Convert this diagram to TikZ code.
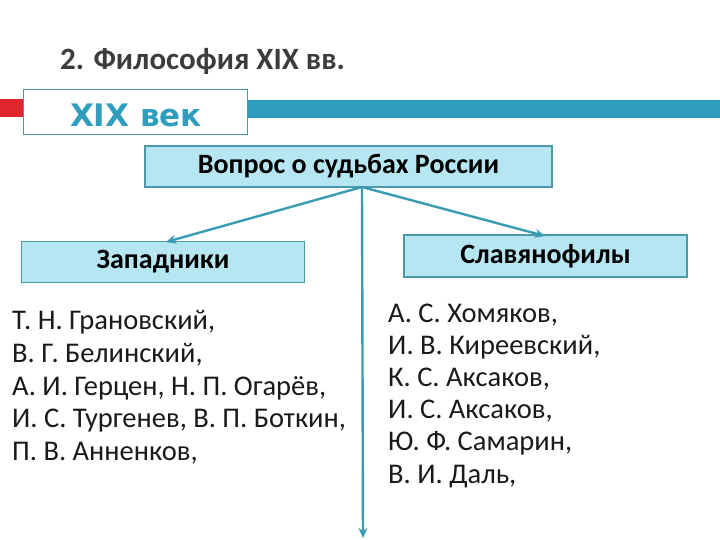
\documentclass[tikz,border=0pt]{standalone}
\usepackage{fontspec}
\setmainfont{Carlito}
\newfontfamily\heavyfont{DejaVu Sans}
\usetikzlibrary{arrows.meta}
\definecolor{teal1}{HTML}{3A9CB2}
\definecolor{barblue}{HTML}{2F9DBE}
\definecolor{boxfill}{HTML}{B5E6F1}
\definecolor{boxedge}{HTML}{4A98A8}
\definecolor{redbar}{HTML}{E0262C}
\definecolor{titlegray}{HTML}{3C3C3C}
\definecolor{txt}{HTML}{1A1A1A}
\tikzset{
  hbox/.style={draw=boxedge, line width=1.8pt, fill=boxfill, inner sep=0pt, font=\fontsize{28}{32}\selectfont\bfseries, text=black},
  plain/.style={anchor=base west, inner sep=0pt, font=\fontsize{28.5}{34}\selectfont, text=txt},
  conn/.style={draw=teal1, line width=2.4pt, -{Stealth[length=10pt,width=9pt]}}
}
\begin{document}
\begin{tikzpicture}[x=1pt,y=-1pt]
\useasboundingbox (0,0) rectangle (720,540);
\fill[white] (0,0) rectangle (720,540);
% bars
\fill[redbar] (0,99) rectangle (23,117);
\fill[barblue] (247,100) rectangle (720,118);
% title
\node[anchor=base west, inner sep=0pt, font=\fontsize{31}{36}\selectfont\bfseries, text=titlegray] (title) at (60,70) {2. Философия XIX вв.};
% XIX box
\node[draw=boxedge, line width=1pt, fill=white, minimum width=224pt, minimum height=45pt, inner sep=0pt] (xix) at (135,112.5) {};
\node[anchor=base, inner sep=0pt, font=\heavyfont\fontsize{31}{36}\selectfont\bfseries, text=barblue] (xixt) at (136,127) {XIX век};
% boxes
\node[hbox, minimum width=407pt, minimum height=41pt] (q) at (348.5,166.5) {Вопрос о судьбах России};
\node[hbox, minimum width=283pt, minimum height=41pt] (lb) at (163,262) {Западники};
\node[hbox, minimum width=283pt, minimum height=42pt] (rb) at (545.5,256) {Славянофилы};
% connectors
\coordinate (hub) at (362,187);
\coordinate (lend) at (166,242);
\coordinate (rend) at (545,236);
\coordinate (bot) at (363,538);
\draw[conn] (hub) -- (lend);
\draw[conn] (hub) -- (rend);
\draw[conn] (hub) -- (bot);
% left list
\node[plain] (l1) at (12,329.5) {Т. Н. Грановский,};
\node[plain] (l2) at (12,362.3) {В. Г. Белинский,};
\node[plain] (l3) at (12,395.1) {А. И. Герцен, Н. П. Огарёв,};
\node[plain] (l4) at (12,427.9) {И. С. Тургенев, В. П. Боткин,};
\node[plain] (l5) at (12,460.7) {П. В. Анненков,};
% right list
\node[plain] (r1) at (388,322) {А. С. Хомяков,};
\node[plain] (r2) at (388,354.2) {И. В. Киреевский,};
\node[plain] (r3) at (388,386.4) {К. С. Аксаков,};
\node[plain] (r4) at (388,418.6) {И. С. Аксаков,};
\node[plain] (r5) at (388,450.8) {Ю. Ф. Самарин,};
\node[plain] (r6) at (388,483) {В. И. Даль,};
\end{tikzpicture}
\end{document}
